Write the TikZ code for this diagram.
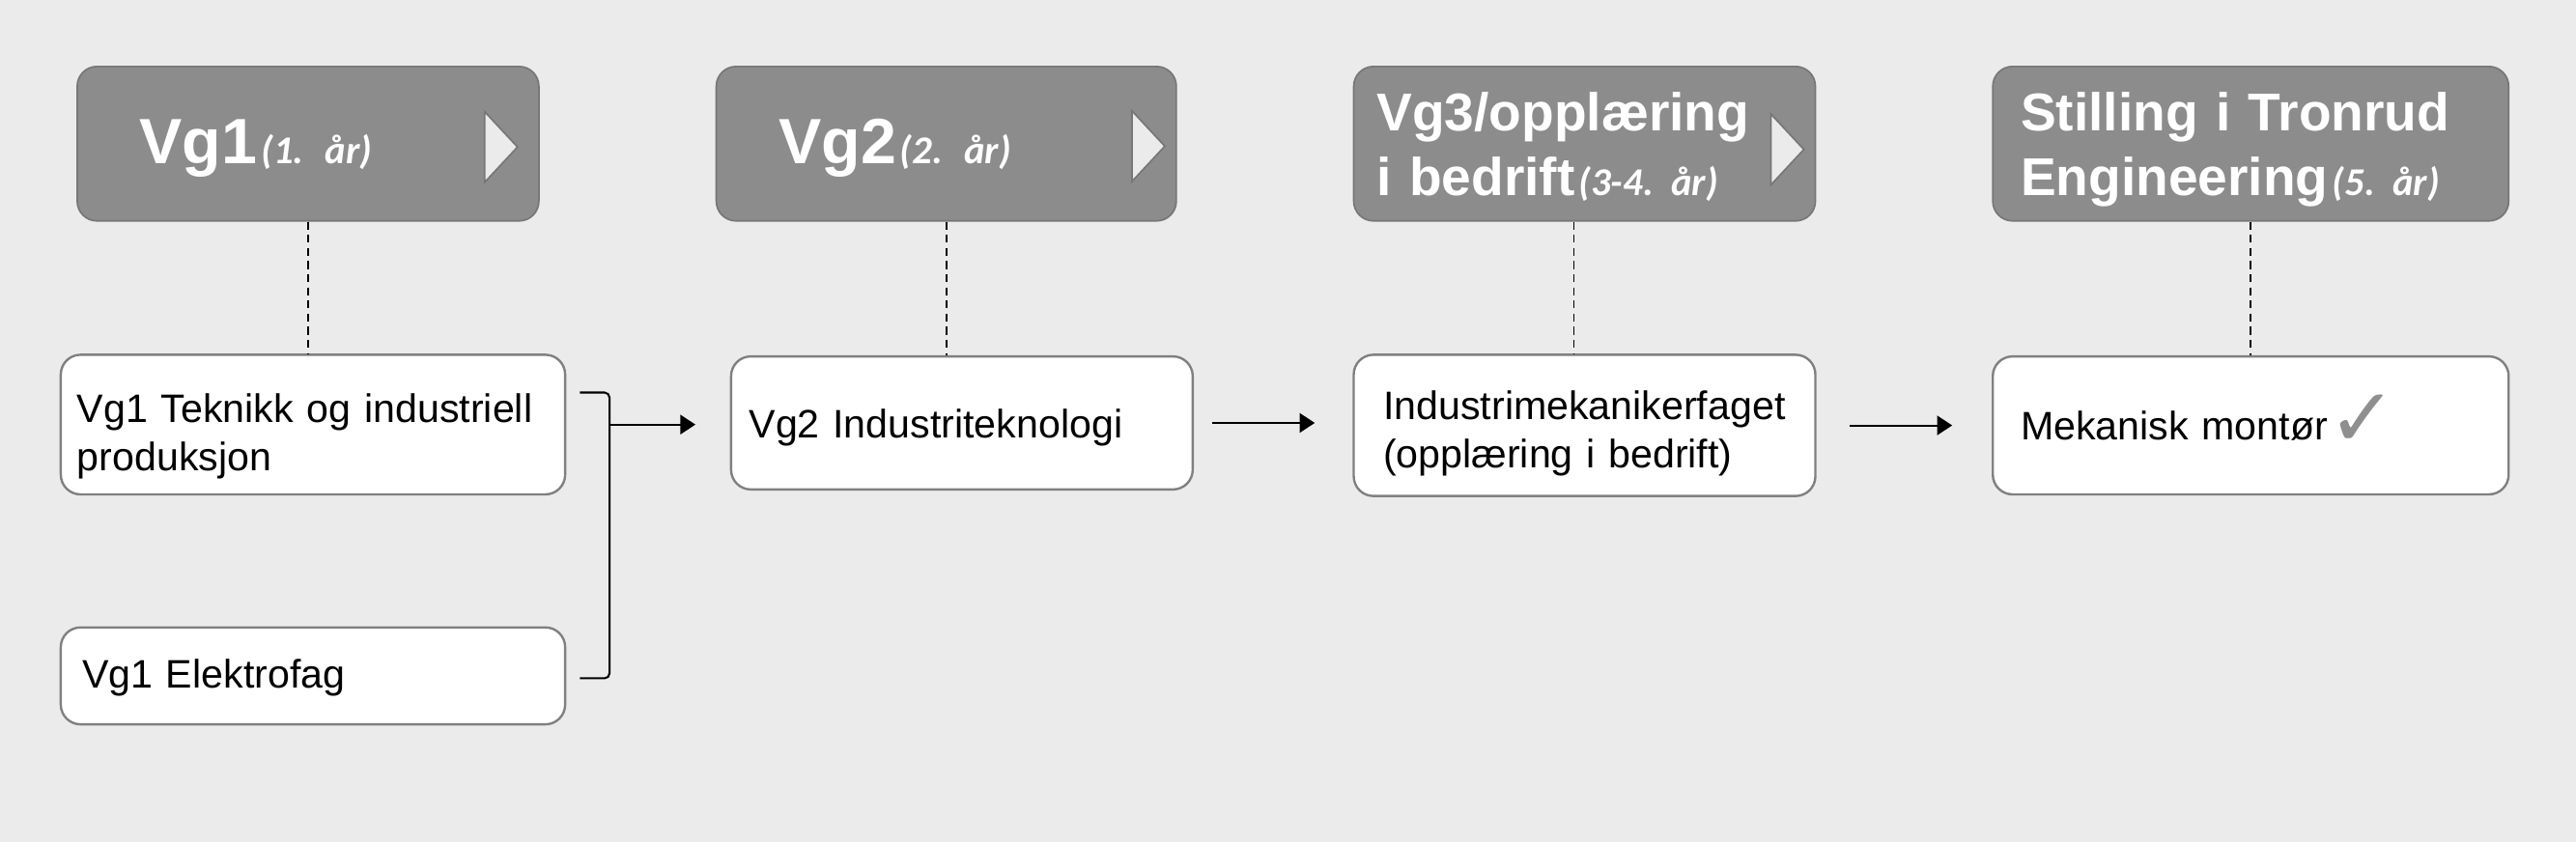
\documentclass[tikz,border=0pt]{standalone}
\usepackage{fontspec}
\setmainfont{Liberation Sans}
\newfontfamily\yearfont{Carlito}
\newfontfamily\checkfont{DejaVu Sans}
\usetikzlibrary{arrows.meta}
\frenchspacing

\definecolor{bggray}{HTML}{EBEBEB}
\definecolor{headgray}{HTML}{8C8C8C}
\definecolor{headline}{HTML}{777777}
\definecolor{boxline}{HTML}{808080}
\definecolor{markgray}{HTML}{EBEBEB}
\definecolor{checkgray}{HTML}{8F8F8F}

\newcommand\yr[1]{{\yearfont\bfseries\itshape\fontsize{12}{14}\selectfont\kern1.2pt #1}}

\tikzset{every picture/.style={line width=0.75pt}}
\tikzset{
  stage/.style={draw=headline, line width=0.5pt, fill=headgray, rounded corners=6pt,
    minimum height=47pt, text=white, align=left},
  stagebig/.style={stage, font=\bfseries\fontsize{19.5}{22}\selectfont,
    text height=14pt, text depth=1.6pt},
  stagesmall/.style={stage, font=\bfseries\fontsize{16.2}{19.7}\selectfont,
    text height=12pt, text depth=20pt},
  course/.style={draw=boxline, line width=0.7pt, fill=white, rounded corners=6pt,
    font=\fontsize{12.1}{14.7}\selectfont, align=left},
  link/.style={line width=0.6pt, -{Triangle[length=4.6pt,width=5.9pt]}},
  bracket/.style={line width=0.6pt, rounded corners=1.5pt},
  guide/.style={line width=0.5pt, dash pattern={on 2.4pt off 1.6pt}},
  marker/.style={draw=headline, line width=0.5pt, fill=markgray}
}

\begin{document}
\begin{tikzpicture}[x=0.5pt,y=0.5pt,yscale=-1,xscale=1]
\fill[bggray] (0,0) rectangle (1568,512.7);
\useasboundingbox (0,0) rectangle (1568,512.7);

%Shape: Headers
\node[stagebig, inner xsep=19pt, text width=102.5pt] (h1) at (187.5,87.5) {Vg1\yr{(1. år)}};
\node[stagebig, inner xsep=19pt, text width=102pt] (h2) at (576,87.5) {Vg2\yr{(2. år)}};
\node[stagesmall, inner xsep=7pt, text width=126.5pt] (h3) at (964.5,87.5) {Vg3/opplæring\\i bedrift\yr{(3-4. år)}};
\node[stagesmall, inner xsep=8.5pt, text width=140pt] (h4) at (1370,87.5) {Stilling i Tronrud\\Engineering\yr{(5. år)}};

%Shape: Triangles
\foreach \mx/\my in {295/89.5, 689/89, 1078/91}
  \draw[marker] (\mx,\my-21.5) -- (\mx+20,\my) -- (\mx,\my+21.5) -- cycle;

%Shape: Courses
\node[course, inner xsep=5pt, text width=143.5pt, minimum height=42.5pt, text height=8pt, text depth=9pt] (b1) at (190.5,258.5) {Vg1 Teknikk og industriell\\produksjon};
\node[course, inner xsep=6.5pt, text width=140.5pt, minimum height=29.5pt, text height=9pt, text depth=1.5pt] (b1el) at (190.5,411.5) {Vg1 Elektrofag};
\node[course, inner xsep=5.5pt, text width=129.5pt, minimum height=40.5pt, text height=10pt, text depth=1pt] (b2) at (585.5,257.5) {Vg2 Industriteknologi};
\node[course, inner xsep=9pt, text width=122.5pt, minimum height=43pt, text height=8pt, text depth=11.7pt] (b3) at (964.5,259) {Industrimekanikerfaget\\(opplæring i bedrift)};
\node[course, inner xsep=8.5pt, text width=140pt, minimum height=42pt, text height=10pt, text depth=1pt] (b4) at (1370,259) {Mekanisk montør{\checkfont\color{checkgray}\fontsize{25}{25}\selectfont\raisebox{-2pt}{✓}}};

%Straight Lines: dashed guides
\draw[guide] (h1.south) -- (h1.south |- b1.north);
\draw[guide] (h2.south) -- (h2.south |- b2.north);
\draw[guide] ([xshift=-3.25pt]h3.south) -- ([xshift=-3.25pt]h3.south |- b3.north);
\draw[guide] (h4.south) -- (h4.south |- b4.north);

%Straight Lines: bracket and arrows
\coordinate (brk) at (371,258.5);
\draw[bracket] (353,239) -- (371,239) -- (371,413) -- (353,413);
\draw[link, shorten >=10.5pt] (brk) -- (brk -| b2.west);
\draw[link, shorten <=5.5pt, shorten >=11.5pt] (b2.east) -- (b2.east -| b3.west);
\draw[link, shorten <=10pt, shorten >=12pt] (b3.east) -- (b3.east -| b4.west);

\end{tikzpicture}
\end{document}
